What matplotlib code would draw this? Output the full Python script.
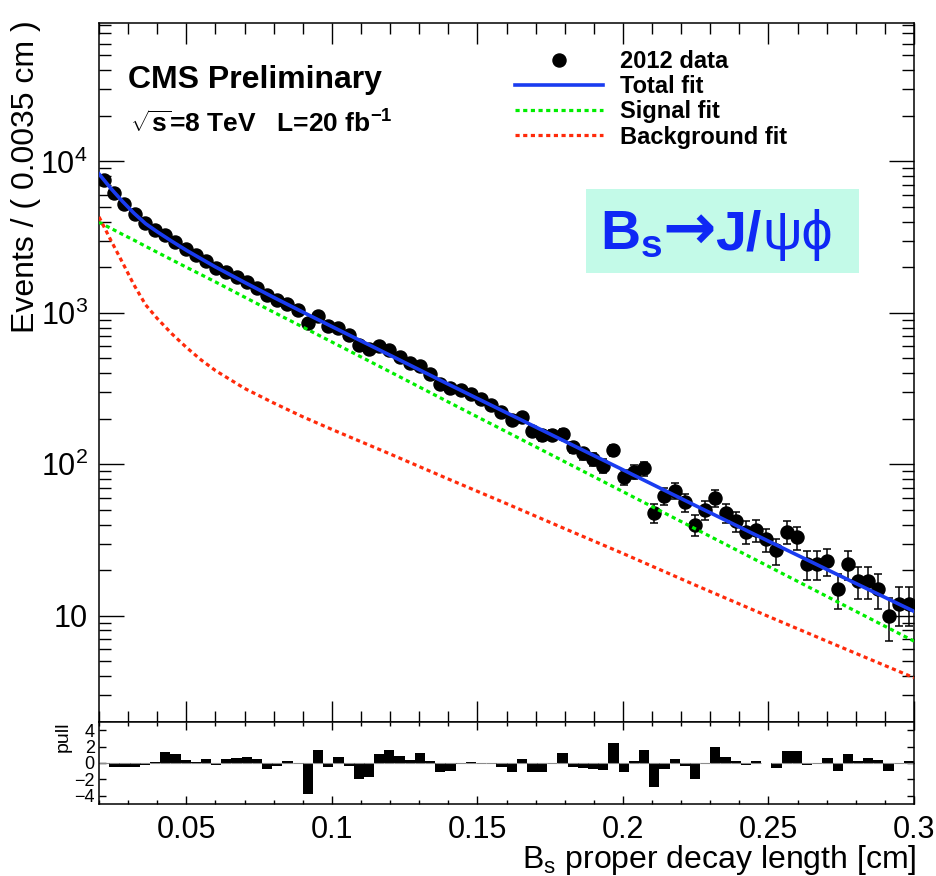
import numpy as np
import matplotlib
matplotlib.use('Agg')
import matplotlib.pyplot as plt
from matplotlib.ticker import MultipleLocator, LogLocator, FuncFormatter, NullFormatter, FixedLocator
from matplotlib.patches import Rectangle
from matplotlib.lines import Line2D
from matplotlib.offsetbox import TextArea, HPacker, AnchoredOffsetbox

plt.rcParams['font.family'] = ['Liberation Sans', 'DejaVu Sans']
plt.rcParams['mathtext.fontset'] = 'custom'
plt.rcParams['mathtext.rm'] = 'Liberation Sans'
plt.rcParams['mathtext.it'] = 'Liberation Sans:italic'
plt.rcParams['mathtext.bf'] = 'Liberation Sans:bold'
plt.rcParams['mathtext.default'] = 'regular'

# ------------------------------------------------------------------
# binning: 80 bins of 0.0035 cm between 0.02 and 0.30 cm
# ------------------------------------------------------------------
X_MIN, X_MAX = 0.02, 0.30
BIN_WIDTH = 0.0035

# 2012 data, events per bin
counts = [7490, 6212, 5236, 4474, 3904, 3514, 3243, 2933, 2632, 2393,
          2204, 1989, 1862, 1721, 1593, 1460, 1307, 1221, 1145, 1048,
          853, 950, 823, 798, 710, 618, 579, 601, 571, 514,
          467, 449, 397, 341, 319, 310, 291, 268, 248, 223,
          195, 204, 167, 155, 157, 159, 130, 118, 108, 98,
          124, 82, 89, 94, 48, 62, 67, 56, 40, 50,
          60, 48, 42, 36, 37, 32, 27, 36, 33, 22,
          22, 23, 15, 22, 17, 17, 15, 10, 12, 12]

# pull per bin (nan = nothing drawn)
pulls = [0.0, -0.5, -0.5, -0.5, -0.2, 0.1, 1.3, 1.15, 0.4, 0.1,
         0.45, -0.25, 0.5, 0.65, 0.78, 0.45, -0.7, -0.35, 0.2, -0.05,
         -3.84, 1.6, -0.5, 0.78, -0.4, -2.0, -1.67, 1.06, 1.55, 0.9,
         0.4, 1.2, 0.2, -1.14, -1.0, -0.1, 0.1, 0.05, 0.02, -0.45,
         -1.14, 0.5, -1.1, -1.1, 0.0, 1.2, -0.45, -0.65, -0.78, -0.85,
         2.4, -1.1, 0.3, 1.6, -2.9, -0.78, 0.45, -0.35, -1.9, 0.0,
         1.9, 0.7, 0.2, -0.3, 0.3, np.nan, -0.6, 1.5, 1.45, -0.3,
         0.0, 0.65, -0.95, 1.05, 0.3, 0.55, 0.35, -0.95, 0.0, 0.25]

# fit projections sampled along the decay length
fit_x = [0.020, 0.024, 0.028, 0.032, 0.036, 0.040, 0.045, 0.050, 0.055, 0.060,
         0.070, 0.080, 0.090, 0.100, 0.120, 0.140, 0.160, 0.180, 0.200, 0.225,
         0.250, 0.275, 0.300]
fit_total = [8260, 6650, 5460, 4550, 3880, 3430, 2970, 2590, 2280, 2010,
             1590, 1265, 1012, 812, 525, 338, 219, 142, 92, 53.3,
             31.1, 18.2, 10.7]
fit_signal = [3960, 3620, 3300, 3020, 2750, 2510, 2240, 2000, 1790, 1600,
              1270, 1010, 806, 642, 408, 258, 164, 104, 66, 37.4,
              21.2, 12.0, 6.8]
fit_bkg = [4300, 3030, 2160, 1530, 1130, 918, 728, 592, 490, 416,
           317, 254, 206, 170, 117, 80, 55, 37.6, 25.8, 15.9,
           9.9, 6.2, 3.9]

BLUE = '#1a3cf0'
GREEN = '#00ee00'
RED = '#ff2a0a'
TITLE_BLUE = '#0f28f5'

centers = X_MIN + BIN_WIDTH * (np.arange(len(counts)) + 0.5)
counts = np.array(counts, dtype=float)
pulls = np.array(pulls)

fig = plt.figure(figsize=(9.36, 8.76), dpi=100)
ax = fig.add_axes([0.1058, 0.1758, 0.8707, 0.798])
axp = fig.add_axes([0.1058, 0.0822, 0.8707, 0.0936], sharex=ax)

# --- main frame ---
ax.errorbar(centers, counts, yerr=np.sqrt(counts), fmt='o', color='black',
            ms=9.4, elinewidth=1.1, capsize=2.9, capthick=1.1, zorder=2)
dots = (0, (1.3, 1.1))
ax.plot(fit_x, fit_signal, color=GREEN, lw=2.3, ls=dots, zorder=3)
ax.plot(fit_x, fit_bkg, color=RED, lw=2.3, ls=dots, zorder=3)
ax.plot(fit_x, fit_total, color=BLUE, lw=2.6, zorder=4)

ax.set_yscale('log')
ax.set_xlim(X_MIN, X_MAX)
ax.set_ylim(1.99, 8.2e4)

ax.xaxis.set_major_locator(MultipleLocator(0.05))
ax.xaxis.set_minor_locator(MultipleLocator(0.01))
ax.yaxis.set_major_locator(LogLocator(base=10))
ax.yaxis.set_minor_locator(LogLocator(base=10, subs=np.arange(2, 10)))
ax.yaxis.set_minor_formatter(NullFormatter())


def decade_label(v, pos):
    n = int(round(np.log10(v)))
    if n == 1:
        return '10'
    return r'$10^{%d}$' % n


ax.yaxis.set_major_formatter(FuncFormatter(decade_label))
ax.tick_params(which='both', direction='in', top=True, right=True,
               labelbottom=False, width=1.0)
ax.tick_params(axis='x', which='major', length=15)
ax.tick_params(axis='x', which='minor', length=8)
ax.tick_params(axis='y', which='major', length=18, labelsize=22, pad=8)
ax.tick_params(axis='y', which='minor', length=8.6)
for s in ax.spines.values():
    s.set_linewidth(1.1)

handles = [Line2D([], [], marker='o', ls='none', color='black', ms=9.4),
           Line2D([], [], color=BLUE, lw=2.6),
           Line2D([], [], color=GREEN, lw=2.3, ls=dots),
           Line2D([], [], color=RED, lw=2.3, ls=dots)]
labels = ['2012 data', 'Total fit', 'Signal fit', 'Background fit']
ax.legend(handles, labels, loc='upper left', bbox_to_anchor=(0.510, 0.961),
          frameon=False, borderpad=0, borderaxespad=0, handlelength=3.73,
          handletextpad=0.72, labelspacing=0.09,
          prop={'size': 17, 'weight': 'bold'})

ax.text(0.0356, 0.907, 'CMS Preliminary', transform=ax.transAxes,
        fontsize=23, fontweight='bold', va='baseline', ha='left')
ax.text(0.038, 0.8426, r'$\sqrt{\mathregular{s}}$=8 TeV   L=20 fb$^{\mathregular{-1}}$',
        transform=ax.transAxes, fontsize=19, fontweight='bold',
        va='baseline', ha='left')

# decay channel tag
ax.add_patch(Rectangle((0.5975, 0.6423), 0.335, 0.1202, transform=ax.transAxes,
                       facecolor='#c3fae8', edgecolor='none', zorder=1))
tp = dict(fontsize=40, fontweight='bold', color=TITLE_BLUE)
parts = [TextArea(r'B$_{\mathregular{s}}$', textprops=tp),
         TextArea('→', textprops=dict(tp, family='DejaVu Sans', fontsize=46)),
         TextArea('J/', textprops=tp),
         TextArea('ψϕ', textprops=dict(tp, fontweight='normal'))]
tag = AnchoredOffsetbox(loc='center', child=HPacker(children=parts, align='baseline', pad=0, sep=0),
                        pad=0, borderpad=0, frameon=False,
                        bbox_to_anchor=(0.757, 0.702), bbox_transform=ax.transAxes)
tag.set_zorder(5)
ax.add_artist(tag)

# --- pull frame ---
ok = ~np.isnan(pulls)
axp.bar(centers[ok], pulls[ok], width=BIN_WIDTH, color='black', linewidth=0)
axp.hlines(np.zeros(ok.sum()), centers[ok] - BIN_WIDTH / 2,
           centers[ok] + BIN_WIDTH / 2, colors='0.55', lw=0.8)
axp.set_ylim(-5, 5)
axp.yaxis.set_major_locator(FixedLocator([-4, -2, 0, 2, 4]))
axp.xaxis.set_major_formatter(FuncFormatter(lambda v, pos: '%g' % round(v, 3)))
axp.tick_params(which='both', direction='in', top=True, right=True, width=1.0)
axp.tick_params(axis='y', which='major', length=5, labelsize=13, pad=3)
axp.tick_params(axis='x', which='major', length=6, labelsize=22, pad=8)
axp.tick_params(axis='x', which='minor', length=3)
for s in axp.spines.values():
    s.set_linewidth(1.1)

fig.text(26 / 936, 1 - 20 / 876, 'Events / ( 0.0035 cm )', rotation=90,
         va='top', ha='center', fontsize=23)
fig.text(63.5 / 936, 1 - 722 / 876, 'pull', rotation=90, va='top',
         ha='center', fontsize=14)
fig.text(917 / 936, 1 - 868 / 876, r'B$_{\mathregular{s}}$ proper decay length [cm]',
         ha='right', va='baseline', fontsize=23)

fig.savefig('out.png', dpi=100, facecolor='white')
